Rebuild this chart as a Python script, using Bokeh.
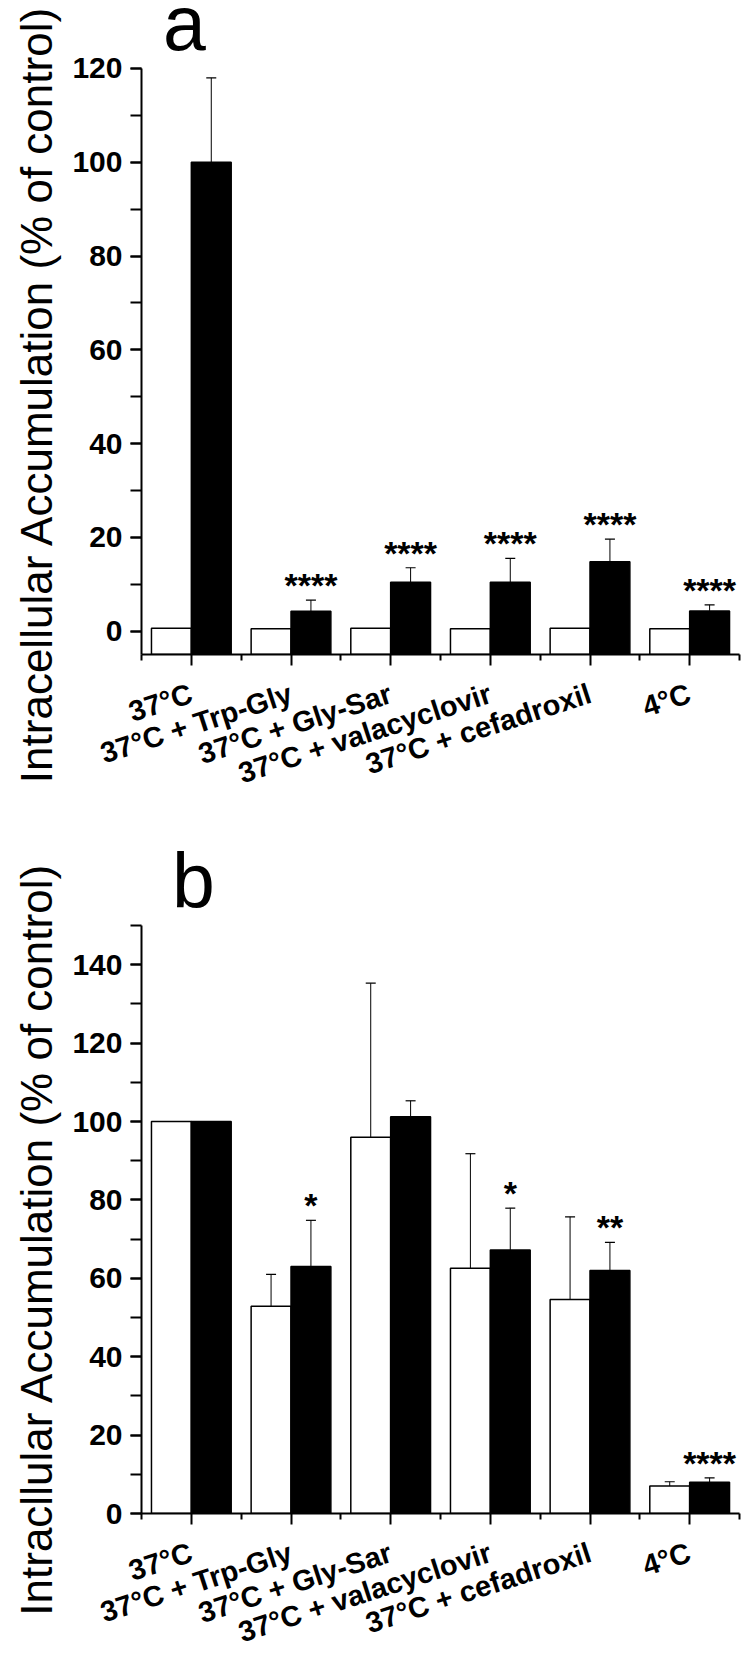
import math
from bokeh.plotting import figure
from bokeh.layouts import column
from bokeh.models import (Range1d, FixedTicker, SingleIntervalTicker, Label, Title,
                          Whisker, TeeHead, ColumnDataSource)
from bokeh.core.properties import value
from bokeh.embed import file_html
from bokeh.resources import INLINE

# ---------------- data ----------------
categories = ["37°C", "37°C + Trp-Gly", "37°C + Gly-Sar",
              "37°C + valacyclovir", "37°C + cefadroxil", "4°C"]

a_white = [0.6, 0.5, 0.6, 0.5, 0.6, 0.5]
a_white_err = [0, 0, 0, 0, 0, 0]
a_black = [100, 4.2, 10.4, 10.4, 14.8, 4.3]
a_black_err = [18, 2.4, 3.1, 5.1, 4.8, 1.3]
a_sig = ["", "****", "****", "****", "****", "****"]

b_white = [100, 52.9, 96.0, 62.6, 54.6, 7.0]
b_white_err = [0, 8.1, 39.3, 29.2, 21.1, 1.1]
b_black = [100, 63.0, 101.2, 67.2, 62.0, 8.0]
b_black_err = [0, 11.8, 4.1, 10.7, 7.2, 1.1]
b_sig = ["", "*", "", "*", "**", "****"]

a_ylabel = "Intracellular Accumulation (% of control)"
b_ylabel = "Intracllular Accumulation (% of control)"

FONT = "Liberation Sans"


def whisker_source(xs, vals, errs):
    d = dict(base=[], lower=[], upper=[])
    for xi, v, e in zip(xs, vals, errs):
        if e > 0:
            d["base"].append(xi)
            d["lower"].append(v)
            d["upper"].append(v + e)
    return ColumnDataSource(d)


def make_panel(white, white_err, black, black_err, sig, y_start, y_axis_end,
               y_view_end, letter, ylabel, frame_h, border_bottom,
               letter_pos, ylabel_offset, ylabel_standoff):
    x = [i + 1 for i in range(len(categories))]
    xw = [xi - 0.2 for xi in x]
    xb = [xi + 0.2 for xi in x]

    p = figure(frame_width=598, frame_height=frame_h,
               x_range=Range1d(0.5, len(categories) + 0.5),
               y_range=Range1d(y_start, y_view_end),
               output_backend="svg", toolbar_location=None,
               min_border_left=137, min_border_right=4,
               min_border_top=0, min_border_bottom=border_bottom)
    p.outline_line_color = None
    p.grid.visible = False
    p.background_fill_color = "white"
    p.border_fill_color = "white"

    p.vbar(x=xw, top=white, bottom=y_start, width=0.4, fill_color="white",
           line_color="black", line_width=1.5)
    p.vbar(x=xb, top=black, bottom=y_start, width=0.4, fill_color="black",
           line_color="black", line_width=1.5)

    for xs, vals, errs in ((xw, white, white_err), (xb, black, black_err)):
        src = whisker_source(xs, vals, errs)
        w = Whisker(source=src, base="base", lower="lower", upper="upper",
                    line_color="black", line_width=1,
                    upper_head=TeeHead(size=10, line_width=1.2, line_color="black"),
                    lower_head=None)
        p.add_layout(w)

    # significance marks
    sx, sy, st = [], [], []
    for xi, v, e, s in zip(xb, black, black_err, sig):
        if s:
            sx.append(xi)
            sy.append(v + e)
            st.append(s)
    p.text(x=sx, y=sy, text=st, text_align="center", text_baseline="alphabetic",
           y_offset=-15, text_font=value(FONT), text_font_style="bold",
           text_font_size="34px", text_color="black")

    # axes
    xa = p.xaxis[0]
    xa.ticker = FixedTicker(ticks=x, minor_ticks=[i + 0.5 for i in range(len(categories) + 1)])
    xa.major_label_overrides = {xi: c for xi, c in zip(x, categories)}
    xa.major_label_orientation = math.radians(18)
    xa.major_label_standoff = 27
    ya = p.yaxis[0]
    ya.ticker = SingleIntervalTicker(interval=20, num_minor_ticks=2)
    ya.bounds = (y_start, y_axis_end)
    ya.major_label_standoff = 8
    for ax in (xa, ya):
        ax.axis_line_width = 2
        ax.major_tick_line_width = 2
        ax.minor_tick_line_width = 2
        ax.major_tick_in = 0
        ax.minor_tick_in = 0
        ax.major_tick_out = 11
        ax.major_label_text_font = FONT
        ax.major_label_text_font_style = "bold"
        ax.major_label_text_color = "black"
    xa.major_label_text_font_size = "29px"
    ya.major_label_text_font_size = "30px"
    xa.minor_tick_out = 6
    ya.minor_tick_out = 11

    p.add_layout(Label(x=letter_pos[0], y=letter_pos[1], x_units="screen", y_units="screen",
                       text=letter, text_font=FONT, text_font_size="77px",
                       text_color="black",
                       text_align="center", text_baseline="alphabetic"))
    p.add_layout(Title(text=ylabel, align="right", offset=ylabel_offset,
                       vertical_align="bottom", standoff=ylabel_standoff,
                       text_font=FONT, text_font_size="44px", text_font_style="normal",
                       text_color="black"), "left")
    return p


# panel a: frame top at figure top; axis drawn from -5 to 120
pa = make_panel(a_white, a_white_err, a_black, a_black_err, a_sig, -5, 120, 134.5,
                "a", a_ylabel, 654, 165, (43, 632), 5, 18)
# panel b: axis drawn from 0 to 150
pb = make_panel(b_white, b_white_err, b_black, b_black_err, b_sig, 0, 150, 177.07,
                "b", b_ylabel, 694, 132, (52, 633), 43, 18)

layout = column(pa, pb, spacing=0)
open("out.html", "w").write(file_html(layout, INLINE))
